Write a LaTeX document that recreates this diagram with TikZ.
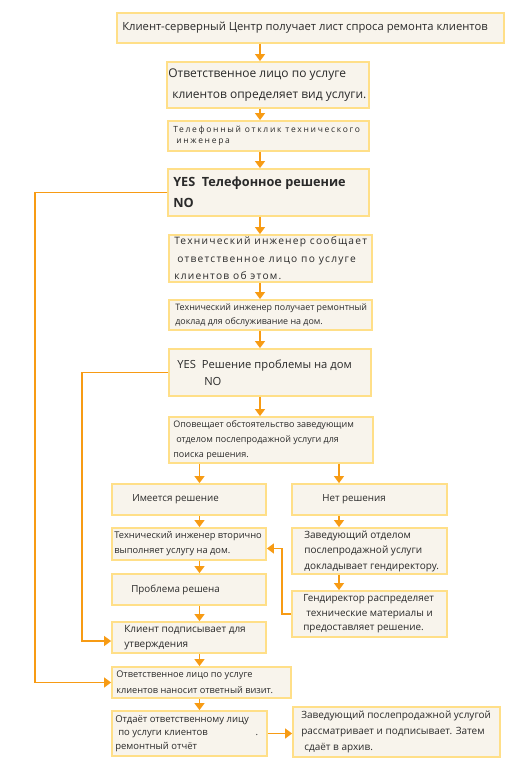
\documentclass[tikz,border=0pt]{standalone}
\usepackage{fontspec}
\setmainfont{Open Sans}
\newfontfamily\spacedA[LetterSpace=20]{Open Sans}
\newfontfamily\spacedB[LetterSpace=12]{Open Sans}
\usetikzlibrary{arrows.meta}
\definecolor{boxfill}{HTML}{F8F4EC}
\definecolor{boxline}{HTML}{FFDF88}
\definecolor{conn}{HTML}{F79B14}
\definecolor{txt}{HTML}{2A2A2A}
\newcommand\Bx[8]{%
  \pgfmathsetmacro\bw{#4-#2}\pgfmathsetmacro\bh{#5-#3}%
  \node[box, minimum width=\bw pt, minimum height=\bh pt] (#1) at ({(#2+#4)/2},{(#3+#5)/2}) {};
  \node[lbl, font=#7, anchor=west] (#1t) at ([xshift=#6pt]#1.west) {#8};}
\begin{document}
\begin{tikzpicture}[x=1pt,y=-1pt,
  box/.style={draw=boxline, fill=boxfill, line width=1.8pt, inner sep=0pt},
  lbl/.style={inner sep=0pt, align=left, text=txt},
  arr/.style={draw=conn, line width=1.2pt, -{Triangle[width=10pt,length=7pt]}}]
\useasboundingbox (0,0) rectangle (519,759);
\Bx{b1}{117}{13}{504}{43}{6}{\fontsize{11.25}{13}\selectfont}{Клиент-серверный Центр получает лист спроса ремонта клиентов}
\Bx{b2}{167}{62}{369}{108}{2}{\fontsize{12}{21}\selectfont}{Ответственное лицо по услуге\\\hspace*{4pt}клиентов определяет вид услуги.}
\Bx{b3}{168}{121}{369}{151}{6}{\spacedA\fontsize{8.5}{11}\selectfont}{Телефонный отклик технического\\\hspace*{3pt}инженера}
\Bx{b4}{168}{169}{369}{216}{6}{\bfseries\fontsize{12.7}{21}\selectfont}{YES\ \ Телефонное решение\\NO}
\Bx{b5}{169}{235}{372}{282}{6}{\spacedB\fontsize{10.2}{17.5}\selectfont}{Технический инженер сообщает\\\hspace*{3pt}ответственное лицо по услуге\\клиентов об этом.}
\Bx{b6}{169}{300}{372}{330}{7}{\fontsize{8.9}{14}\selectfont}{Технический инженер получает ремонтный\\доклад для обслуживание на дом.}
\Bx{b7}{169}{349}{371}{396}{9}{\fontsize{11.2}{17}\selectfont}{YES\ \ Решение проблемы на дом\\\hspace*{27pt}NO}
\Bx{b8}{169}{417}{373}{463}{5}{\fontsize{9}{15}\selectfont}{Оповещает обстоятельство заведующим\\\hspace*{3pt}отделом послепродажной услуги для\\поиска решения.}
\Bx{b9}{112}{484}{266}{515}{21}{\fontsize{9.8}{15}\selectfont}{Имеется решение}
\Bx{b10}{292}{484}{447}{515}{31}{\fontsize{9.8}{15}\selectfont}{Нет решения}
\Bx{b11}{112}{528}{266}{560}{3}{\fontsize{9.3}{15}\selectfont}{Технический инженер вторично\\выполняет услугу на дом.}
\Bx{b12}{292}{528}{447}{574}{13}{\fontsize{10}{15.5}\selectfont}{Заведующий отделом\\послепродажной услуги\\докладывает гендиректору.}
\Bx{b13}{112}{574}{266}{605}{20}{\fontsize{9.8}{15}\selectfont}{Проблема решена}
\Bx{b14}{292}{591}{447}{637}{12}{\fontsize{9.9}{14.5}\selectfont}{Гендиректор распределяет\\\hspace*{3pt}технические материалы и\\предоставляет решение.}
\Bx{b15}{112}{622}{266}{653}{13}{\fontsize{10}{15}\selectfont}{Клиент подписывает для\\утверждения}
\Bx{b16}{112}{667}{291}{698}{5}{\fontsize{9.2}{16}\selectfont}{Ответственное лицо по услуге\\клиентов наносит ответный визит.}
\Bx{b17}{112}{711}{267}{756}{4}{\fontsize{9.5}{13.5}\selectfont}{Отдаёт ответственному лицу\\\hspace*{3pt}по услуги клиентов\hspace*{48pt}.\\ремонтный отчёт}
\Bx{b18}{293}{707}{500}{757}{9}{\fontsize{10}{16}\selectfont}{Заведующий послепродажной услугой\\рассматривает и подписывает. Затем\\\hspace*{3pt}сдаёт в архив.}
\coordinate (cx) at (260,0);
\coordinate (lx) at (199.5,0);
\coordinate (rx) at (339,0);
\coordinate (L1) at (35,0);
\coordinate (L2) at (82,0);
\coordinate (R1) at (282,0);
\draw[arr] (b1.south -| cx) -- (b2.north -| cx);
\draw[arr] (b2.south -| cx) -- (b3.north -| cx);
\draw[arr] (b3.south -| cx) -- (b4.north -| cx);
\draw[arr] (b4.south -| cx) -- (b5.north -| cx);
\draw[arr] (b5.south -| cx) -- (b6.north -| cx);
\draw[arr] (b6.south -| cx) -- (b7.north -| cx);
\draw[arr] (b7.south -| cx) -- (b8.north -| cx);
\draw[arr] (b8.south -| lx) -- (b9.north -| lx);
\draw[arr] (b8.south -| rx) -- (b10.north -| rx);
\draw[arr] (b9.south -| lx) -- (b11.north -| lx);
\draw[arr] (b11.south -| lx) -- (b13.north -| lx);
\draw[arr] (b13.south -| lx) -- (b15.north -| lx);
\draw[arr] (b15.south -| lx) -- (b16.north -| lx);
\draw[arr] (b16.south -| lx) -- (b17.north -| lx);
\draw[arr] (b10.south -| rx) -- (b12.north -| rx);
\draw[arr] (b12.south -| rx) -- (b14.north -| rx);
\draw[arr] (b4.west) -- (b4.west -| L1) |- (b16.west);
\draw[arr] (b7.west) -- (b7.west -| L2) |- ([yshift=-3.5pt]b15.west);
\draw[arr] (b14.west) -- (b14.west -| R1) |- ([yshift=-4.5pt]b11.east);
\draw[arr] (b17.east) -- (b17.east -| b18.west);
\end{tikzpicture}
\end{document}
